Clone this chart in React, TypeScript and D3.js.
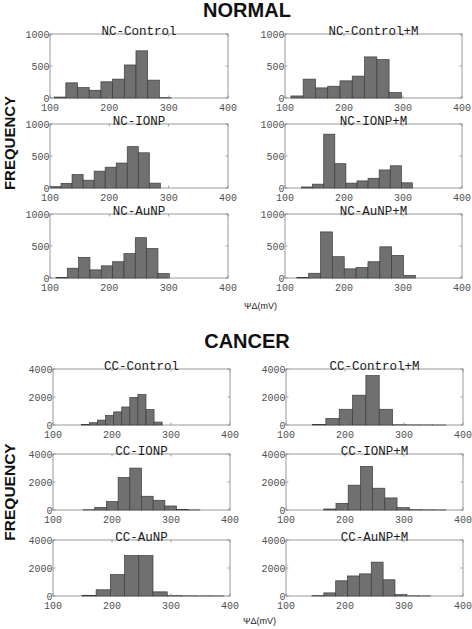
import React from "react";
import * as d3 from "d3";

// ---- data ----
const xTicks = [100, 200, 300, 400];
const ncYTicks = [0, 500, 1000];
const ccYTicks = [0, 2000, 4000];

const ncTitles = ["NC-Control", "NC-Control+M", "NC-IONP", "NC-IONP+M", "NC-AuNP", "NC-AuNP+M"];
const ncBinRanges = [
  [107, 304],
  [110, 318],
  [100, 286],
  [128, 316],
  [110, 301],
  [120, 321],
];
const ncControl = [15, 237, 163, 121, 253, 295, 516, 737, 279, 5];
const ncControlM = [32, 295, 158, 184, 268, 342, 642, 600, 84, 0];
const ncIONP = [21, 73, 210, 122, 263, 325, 390, 646, 550, 76];
const ncIONPM = [16, 60, 841, 380, 76, 111, 152, 282, 347, 81];
const ncAuNP = [10, 153, 323, 127, 190, 254, 381, 630, 460, 69];
const ncAuNPM = [10, 74, 720, 333, 143, 164, 254, 487, 354, 42];

const ccTitles = ["CC-Control", "CC-Control+M", "CC-IONP", "CC-IONP+M", "CC-AuNP", "CC-AuNP+M"];
const ccBinRanges = [
  [148, 285],
  [145, 371],
  [151, 349],
  [164, 371],
  [149, 390],
  [144, 345],
];
const ccControl = [47, 164, 351, 678, 936, 1287, 1965, 2175, 1099, 210];
const ccControlM = [40, 468, 1123, 2128, 3532, 1123, 15, 5, 3, 2];
const ccIONP = [15, 190, 600, 2323, 2994, 982, 695, 287, 30, 5];
const ccIONPM = [72, 479, 1772, 3114, 1557, 862, 168, 20, 10, 5];
const ccAuNP = [50, 444, 1531, 2889, 2889, 296, 25, 10, 5, 3];
const ccAuNPM = [25, 222, 1086, 1432, 1580, 2420, 1160, 100, 10, 5];

const ncCounts = [ncControl, ncControlM, ncIONP, ncIONPM, ncAuNP, ncAuNPM];
const ccCounts = [ccControl, ccControlM, ccIONP, ccIONPM, ccAuNP, ccAuNPM];

const xLabel = "ΨΔ(mV)";
const yLabel = "FREQUENCY";

// ---- drawing ----
type PanelProps = {
  left: number;
  right: number;
  top: number;
  height: number;
  title: string;
  range: number[];
  counts: number[];
  yTicks: number[];
};

function Panel({ left, right, top, height, title, range, counts, yTicks }: PanelProps) {
  const bottom = top + height;
  const x = d3.scaleLinear().domain([100, 400]).range([left, right]);
  const y = d3.scaleLinear().domain([0, yTicks[yTicks.length - 1]]).range([bottom, top]);
  const n = counts.length;
  const w = (range[1] - range[0]) / n;
  const tickLen = 2.5;
  const mono = "'Liberation Mono', 'DejaVu Sans Mono', monospace";
  return (
    <g>
      <rect x={left} y={top} width={right - left} height={height} fill="#fff" stroke="#9a9a9a" strokeWidth={1} />
      {counts.map((c, i) => {
        const a = Math.max(100, range[0] + i * w);
        const b = Math.min(400, range[0] + (i + 1) * w);
        return (
          <rect
            key={i}
            x={x(a)}
            y={y(c)}
            width={x(b) - x(a)}
            height={Math.max(0, y(0) - y(c))}
            fill="#707070"
            stroke="#3c3c3c"
            strokeWidth={0.7}
          />
        );
      })}
      {xTicks.map((t) => (
        <g key={"xt" + t}>
          <line x1={x(t)} x2={x(t)} y1={bottom} y2={bottom - tickLen} stroke="#8a8a8a" strokeWidth={0.8} />
          <line x1={x(t)} x2={x(t)} y1={top} y2={top + tickLen} stroke="#8a8a8a" strokeWidth={0.8} />
          <text x={x(t)} y={bottom + 13} textAnchor="middle" fontFamily={mono} fontSize={10} fill="#505050">
            {t}
          </text>
        </g>
      ))}
      {yTicks.map((t) => (
        <g key={"yt" + t}>
          <line x1={left} x2={left + tickLen} y1={y(t)} y2={y(t)} stroke="#8a8a8a" strokeWidth={0.8} />
          <line x1={right} x2={right - tickLen} y1={y(t)} y2={y(t)} stroke="#8a8a8a" strokeWidth={0.8} />
          <text x={left - 0.5} y={y(t)} dy="0.35em" textAnchor="end" fontFamily={mono} fontSize={10} fill="#505050">
            {t}
          </text>
        </g>
      ))}
      <text x={(left + right) / 2} y={top + 0.5} textAnchor="middle" fontFamily={mono} fontSize={12.5} fill="#1a1a1a">
        {title}
      </text>
    </g>
  );
}

export default function App() {
  const W = 472;
  const H = 629;
  const sans = "'Liberation Sans', Arial, sans-serif";
  const ncCols = [
    [50, 228],
    [285, 462],
  ];
  const ccCols = [
    [53, 230],
    [286, 463],
  ];
  const ncTops = [34, 124, 214];
  const ccTops = [369, 454, 540];
  return (
    <svg width={W} height={H} style={{ position: "absolute", left: 0, top: 0, background: "#fff" }}>
      <rect width={W} height={H} fill="#fff" />
      <text x={247} y={17} textAnchor="middle" fontFamily={sans} fontWeight="bold" fontSize={20} fill="#111">
        NORMAL
      </text>
      <text x={247} y={348} textAnchor="middle" fontFamily={sans} fontWeight="bold" fontSize={20} fill="#111">
        CANCER
      </text>
      <text
        transform="translate(14.5,143) rotate(-90)"
        textAnchor="middle"
        fontFamily={sans}
        fontWeight="bold"
        fontSize={15}
        fill="#111"
      >
        {yLabel}
      </text>
      <text
        transform="translate(14.5,492) rotate(-90)"
        textAnchor="middle"
        fontFamily={sans}
        fontWeight="bold"
        fontSize={15.5}
        fill="#111"
      >
        {yLabel}
      </text>
      {ncTitles.map((t, i) => {
        const col = ncCols[i % 2];
        return (
          <Panel
            key={t}
            left={col[0]}
            right={col[1]}
            top={ncTops[Math.floor(i / 2)]}
            height={64}
            title={t}
            range={ncBinRanges[i]}
            counts={ncCounts[i]}
            yTicks={ncYTicks}
          />
        );
      })}
      {ccTitles.map((t, i) => {
        const col = ccCols[i % 2];
        return (
          <Panel
            key={t}
            left={col[0]}
            right={col[1]}
            top={ccTops[Math.floor(i / 2)]}
            height={56}
            title={t}
            range={ccBinRanges[i]}
            counts={ccCounts[i]}
            yTicks={ccYTicks}
          />
        );
      })}
      <text x={244} y={309} fontFamily={sans} fontSize={9} fill="#222">
        {xLabel}
      </text>
      <text x={243} y={624} fontFamily={sans} fontSize={9} fill="#222">
        {xLabel}
      </text>
    </svg>
  );
}
